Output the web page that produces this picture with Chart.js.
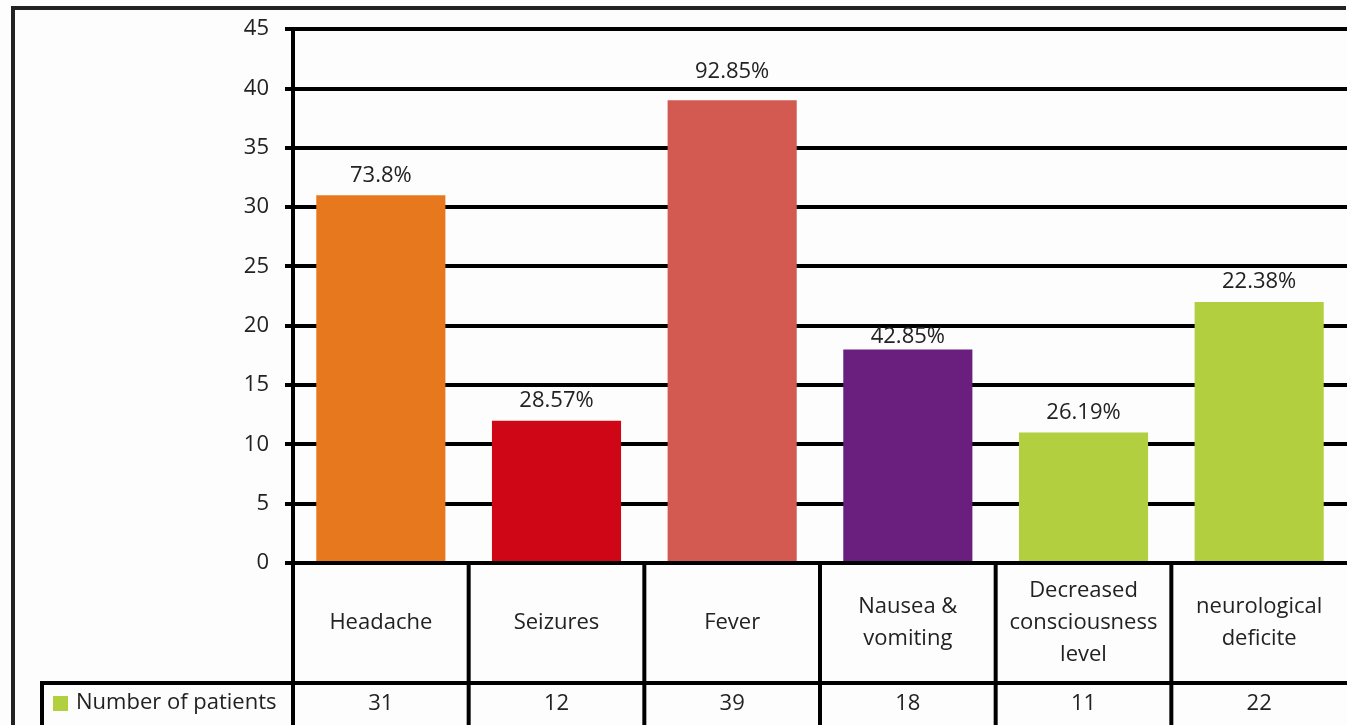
<!DOCTYPE html>
<html>
<head>
<meta charset="utf-8">
<script src="https://cdn.jsdelivr.net/npm/chart.js@4.4.1/dist/chart.umd.min.js"></script>
<style>
  html, body { margin: 0; padding: 0; background: #fdfdfd; }
  #wrap { width: 1347px; height: 725px; position: relative; }
</style>
</head>
<body>
<div id="wrap"><canvas id="symptomChart"></canvas></div>
<script>
// data
const categories = [
    ['Headache'],
    ['Seizures'],
    ['Fever'],
    ['Nausea &', 'vomiting'],
    ['Decreased', 'consciousness', 'level'],
    ['neurological', 'deficite']
];
const patients = [31, 12, 39, 18, 11, 22];
const percentLabels = ['73.8%', '28.57%', '92.85%', '42.85%', '26.19%', '22.38%'];
const seriesName = 'Number of patients';

const barColors = ['#E8781E', '#CF0616', '#D35A50', '#6A1F7F', '#B1CF3E', '#B1CF3E'];
const textColor = '#222';
const fontFamily = "'Open Sans', sans-serif";
const fontSize = 22;

// percentage labels above bars + the data table under the axis
const tablePlugin = {
    id: 'tablePlugin',
    afterDraw(chart) {
        const ctx = chart.ctx;
        const area = chart.chartArea;
        const x = chart.scales.x;
        const y = chart.scales.y;
        const meta = chart.getDatasetMeta(0);
        const rowSplit = 683;
        const bottom = 725;
        const legendLeft = 42;
        const gridYs = y.ticks.map(t => y.getPixelForValue(t.value));

        ctx.save();
        ctx.fillStyle = textColor;
        ctx.font = fontSize + 'px ' + fontFamily;
        ctx.textAlign = 'center';
        ctx.textBaseline = 'middle';
        meta.data.forEach((bar, i) => {
            let ly = bar.y - 20;
            // keep the label off the gridlines, like the spreadsheet does
            gridYs.forEach(gy => {
                if (Math.abs(ly - gy) < 12) {
                    ly = (gy + 11 <= bar.y - 12) ? gy + 11 : gy - 17;
                }
            });
            ctx.fillText(percentLabels[i], bar.x, ly);
        });

        // table lines
        ctx.strokeStyle = '#000';
        ctx.lineWidth = 4;
        const step = (area.right - area.left) / categories.length;
        ctx.beginPath();
        for (let i = 0; i < categories.length; i++) {
            const bx = area.left + i * step;
            ctx.moveTo(bx, area.bottom);
            ctx.lineTo(bx, bottom);
        }
        ctx.moveTo(legendLeft - 2, rowSplit);
        ctx.lineTo(area.right, rowSplit);
        ctx.moveTo(legendLeft, rowSplit);
        ctx.lineTo(legendLeft, bottom);
        ctx.stroke();

        // category names and counts
        categories.forEach((lines, i) => {
            const cx = x.getPixelForValue(i);
            const lh = 32;
            const y0 = 623 - (lines.length - 1) * lh / 2;
            lines.forEach((t, j) => ctx.fillText(t, cx, y0 + j * lh));
            ctx.fillText(String(patients[i]), cx, 704);
        });

        // legend key
        ctx.fillStyle = '#B1CF3E';
        ctx.fillRect(53, 696, 15, 15);
        ctx.fillStyle = textColor;
        ctx.textAlign = 'left';
        ctx.fillText(seriesName, 76, 703);

        // outer frame
        ctx.strokeStyle = '#222';
        ctx.lineWidth = 4;
        ctx.beginPath();
        ctx.moveTo(13, 727);
        ctx.lineTo(13, 8);
        ctx.lineTo(1346, 8);
        ctx.stroke();
        ctx.restore();
    }
};

const ctx = document.getElementById('symptomChart').getContext('2d');

new Chart(ctx, {
    type: 'bar',
    data: {
        labels: categories.map(c => c.join(' ')),
        datasets: [{
            label: seriesName,
            data: patients,
            backgroundColor: barColors,
            borderWidth: 0,
            barPercentage: 0.735,
            categoryPercentage: 1
        }]
    },
    options: {
        responsive: true,
        maintainAspectRatio: false,
        animation: false,
        layout: {
            padding: { left: 0, top: 25, right: 0, bottom: 162 }
        },
        scales: {
            x: {
                display: false
            },
            y: {
                min: 0,
                max: 45,
                afterFit(scale) { scale.width = 293; },
                ticks: {
                    stepSize: 5,
                    padding: 16,
                    color: textColor,
                    font: { family: fontFamily, size: fontSize }
                },
                grid: {
                    color: '#000',
                    lineWidth: 4,
                    tickLength: 8,
                    z: -1
                },
                border: { color: '#000', width: 4 }
            }
        },
        plugins: {
            legend: { display: false },
            tooltip: { enabled: false }
        }
    },
    plugins: [tablePlugin]
});
</script>
</body>
</html>
